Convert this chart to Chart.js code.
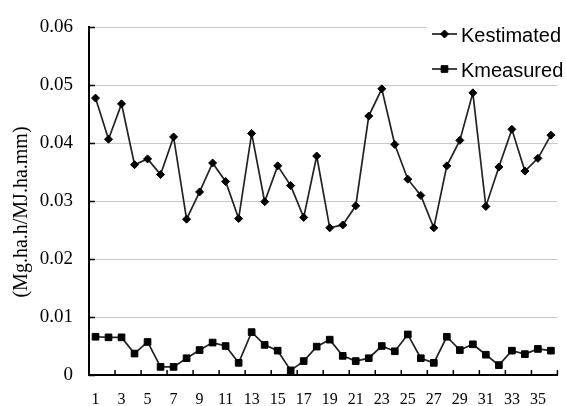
<!DOCTYPE html>
<html>
<head>
<meta charset="utf-8">
<script src="https://cdn.jsdelivr.net/npm/chart.js@4"></script>
<style>
html,body{margin:0;padding:0;background:#fff;}
#wrap{width:566px;height:406px;}
</style>
</head>
<body>
<div id="wrap"><canvas id="c" width="566" height="406"></canvas></div>
<script>
const categories = Array.from({length:36},(_,i)=>String(i+1));
const kEstimated = [0.0478,0.0407,0.0468,0.0363,0.0373,0.0346,0.0411,0.0269,0.0316,0.0366,
  0.0334,0.0270,0.0417,0.0299,0.0361,0.0327,0.0272,0.0378,0.0254,0.0259,
  0.0292,0.0447,0.0494,0.0398,0.0338,0.0310,0.0254,0.0361,0.0405,0.0487,
  0.0291,0.0359,0.0424,0.0352,0.0374,0.0414];
const kMeasured = [0.0066,0.0065,0.0065,0.0037,0.0057,0.0014,0.0014,0.0029,0.0043,0.0056,
  0.0050,0.0021,0.0074,0.0052,0.0042,0.0008,0.0024,0.0049,0.0061,0.0033,
  0.0024,0.0029,0.0050,0.0041,0.0070,0.0029,0.0021,0.0066,0.0043,0.0053,
  0.0035,0.0017,0.0042,0.0036,0.0045,0.0042];
const seriesNames = ['Kestimated','Kmeasured'];
const yTicks = [0,0.01,0.02,0.03,0.04,0.05,0.06];
const yTitle = '(Mg.ha.h/MJ.ha.mm)';

const serif = '"Liberation Serif","Times New Roman",serif';
const sans = '"Liberation Sans",Arial,sans-serif';

const decor = {
  id:'decor',
  afterDraw(chart){
    const ctx = chart.ctx, xs = chart.scales.x, ys = chart.scales.y;
    const area = chart.chartArea;
    ctx.save();
    // inside tick marks
    ctx.strokeStyle = '#000'; ctx.lineWidth = 1.5;
    ctx.beginPath();
    yTicks.forEach(v=>{
      const y = Math.round(ys.getPixelForValue(v))+0.5;
      ctx.moveTo(area.left, y); ctx.lineTo(area.left+6, y);
    });
    const step = (area.right-area.left)/categories.length;
    for(let k=2;k<=categories.length;k+=2){
      const x = area.left + k*step;
      ctx.moveTo(x, area.bottom); ctx.lineTo(x, area.bottom-5);
    }
    ctx.stroke();
    // legend
    ctx.fillStyle = '#fff';
    ctx.fillRect(427, 8, 139, 72);
    const items = [
      {name:seriesNames[0], y:34, style:'rectRot', r:4},
      {name:seriesNames[1], y:69, style:'rect', r:4.7}
    ];
    items.forEach(it=>{
      ctx.strokeStyle = '#222'; ctx.lineWidth = 1.7;
      ctx.beginPath(); ctx.moveTo(432, it.y); ctx.lineTo(457, it.y); ctx.stroke();
      ctx.fillStyle = '#000'; ctx.strokeStyle = '#000'; ctx.lineWidth = 1;
      Chart.helpers.drawPoint(ctx, {pointStyle: it.style, radius: it.r, rotation: 0, borderWidth: 1}, 444.5, it.y);
      ctx.fillStyle = '#000';
      ctx.font = '20px ' + sans;
      ctx.textAlign = 'left'; ctx.textBaseline = 'middle';
      ctx.fillText(it.name, 461, it.y + 2);
    });
    // y title
    ctx.translate(22, 212);
    ctx.rotate(-Math.PI/2);
    ctx.font = '20px ' + serif;
    ctx.fillStyle = '#000';
    ctx.textAlign = 'center'; ctx.textBaseline = 'middle';
    ctx.fillText(yTitle, 0, 0);
    ctx.restore();
  }
};

new Chart(document.getElementById('c'), {
  type:'line',
  data:{
    labels: categories,
    datasets:[
      {label:seriesNames[0], data:kEstimated, borderColor:'#222', borderWidth:1.7,
       pointStyle:'rectRot', pointRadius:4, pointBackgroundColor:'#000', pointBorderColor:'#000', pointBorderWidth:1,
       tension:0, fill:false},
      {label:seriesNames[1], data:kMeasured, borderColor:'#222', borderWidth:1.7,
       pointStyle:'rect', pointRadius:4.7, pointBackgroundColor:'#000', pointBorderColor:'#000', pointBorderWidth:1,
       tension:0, fill:false}
    ]
  },
  options:{
    responsive:false,
    animation:false,
    devicePixelRatio:1,
    layout:{padding:{top:19,right:1,left:0,bottom:0}},
    plugins:{legend:{display:false}, tooltip:{enabled:false}},
    scales:{
      x:{
        offset:true,
        grid:{display:false, drawTicks:false},
        border:{display:true, color:'#000', width:2},
        ticks:{autoSkip:false, maxRotation:0, padding:15, color:'#000',
          font:{family:serif, size:16},
          callback:function(v,i){ return i%2===0 ? categories[i] : ''; }},
        afterFit(s){ s.height = 31; }
      },
      y:{
        min:0, max:0.06,
        afterBuildTicks(s){ s.ticks = yTicks.map(v=>({value:v})); },
        grid:{color:'#c8c8c8', lineWidth:1, drawTicks:false},
        border:{display:true, color:'#000', width:2},
        ticks:{padding:16, color:'#000', font:{family:serif, size:19},
          callback:v => v===0 ? '0' : v.toFixed(2)},
        afterFit(s){ s.width = 89; }
      }
    }
  },
  plugins:[decor]
});
</script>
</body>
</html>
